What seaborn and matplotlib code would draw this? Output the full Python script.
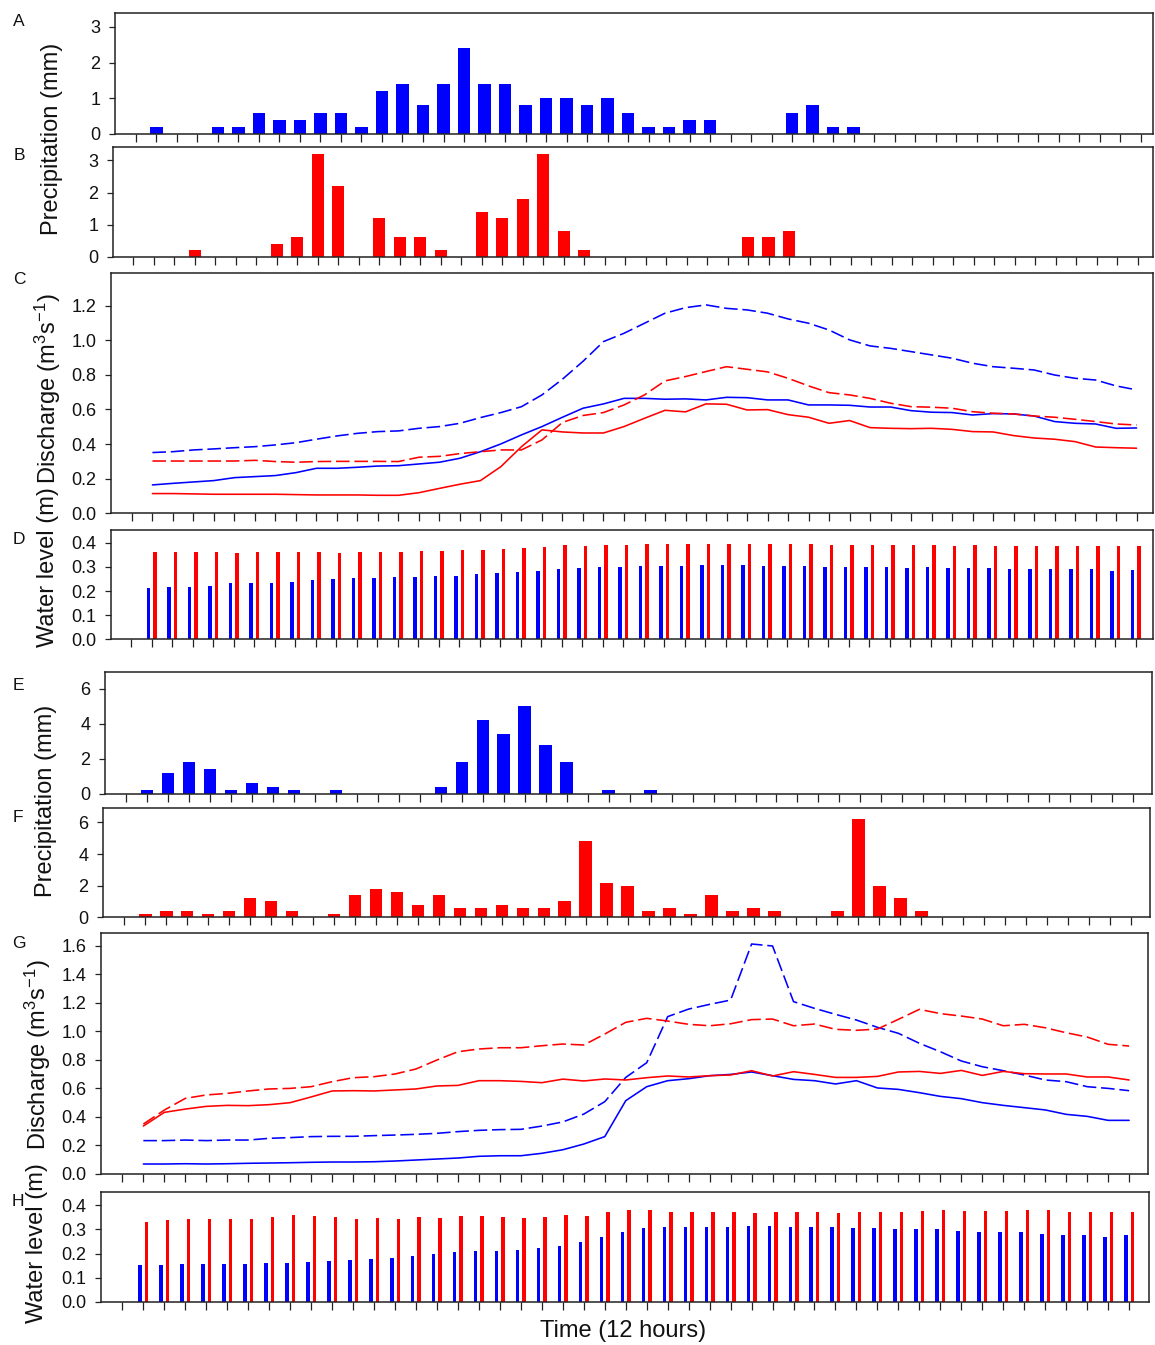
import numpy as np
import pandas as pd
import matplotlib
matplotlib.use("Agg")
import matplotlib.pyplot as plt
import seaborn as sns

# ---------------- data ----------------
# Top event: time index 1..49 (12-hour steps)
t_top = np.arange(1, 50)
precip_A = [0.2, 0, 0, 0.2, 0.2, 0.6, 0.4, 0.4, 0.6, 0.6, 0.2, 1.2, 1.4, 0.8, 1.4, 2.4, 1.4, 1.4,
            0.8, 1.0, 1.0, 0.8, 1.0, 0.6, 0.2, 0.2, 0.4, 0.4, 0, 0, 0, 0.6, 0.8, 0.2, 0.2] + [0] * 14
precip_B = [0, 0, 0.2, 0, 0, 0, 0.4, 0.6, 3.2, 2.2, 0, 1.2, 0.6, 0.6, 0.2, 0, 1.4, 1.2, 1.8, 3.2,
            0.8, 0.2] + [0] * 7 + [0.6, 0.6, 0.8] + [0] * 17
q_C_blue_dash = [0.351, 0.356, 0.366, 0.372, 0.379, 0.385, 0.395, 0.408, 0.428, 0.447, 0.462, 0.472,
                 0.476, 0.491, 0.501, 0.52, 0.553, 0.582, 0.616, 0.684,
                 0.775, 0.878, 0.992, 1.04, 1.098, 1.156, 1.188, 1.204, 1.184, 1.175, 1.156, 1.123,
                 1.098, 1.059, 1.002, 0.967, 0.953, 0.934, 0.915, 0.896, 0.867, 0.847, 0.838, 0.828,
                 0.799, 0.78, 0.77, 0.736, 0.713]
q_C_red_dash = [0.302, 0.302, 0.302, 0.302, 0.302, 0.306, 0.299, 0.295, 0.299, 0.3, 0.3, 0.3, 0.299,
                0.324, 0.329, 0.345, 0.356, 0.366, 0.366, 0.424,
                0.525, 0.565, 0.582, 0.626, 0.684, 0.765, 0.79, 0.819, 0.847, 0.832, 0.817, 0.78,
                0.736, 0.697, 0.684, 0.664, 0.636, 0.616, 0.613, 0.607, 0.587, 0.578, 0.574, 0.562,
                0.555, 0.543, 0.53, 0.516, 0.51]
q_C_blue = [0.164, 0.173, 0.181, 0.189, 0.206, 0.212, 0.218, 0.235, 0.26, 0.26, 0.266, 0.273, 0.275,
            0.285, 0.295, 0.318, 0.356, 0.401, 0.453, 0.501,
            0.555, 0.607, 0.632, 0.664, 0.664, 0.659, 0.661, 0.655, 0.67, 0.668, 0.655, 0.655, 0.626,
            0.626, 0.624, 0.614, 0.614, 0.593, 0.584, 0.582, 0.568, 0.576, 0.574, 0.562, 0.53, 0.52,
            0.516, 0.491, 0.493]
q_C_red = [0.114, 0.114, 0.112, 0.11, 0.11, 0.11, 0.11, 0.108, 0.106, 0.106, 0.106, 0.104, 0.104,
           0.119, 0.144, 0.168, 0.189, 0.27, 0.385, 0.482,
           0.47, 0.464, 0.464, 0.501, 0.549, 0.595, 0.586, 0.632, 0.63, 0.597, 0.599, 0.57, 0.555,
           0.52, 0.536, 0.495, 0.491, 0.489, 0.491, 0.485, 0.472, 0.47, 0.449, 0.435, 0.428, 0.414,
           0.383, 0.379, 0.376]
wl_D_blue = [0.211, 0.218, 0.218, 0.222, 0.232, 0.232, 0.232, 0.239, 0.247, 0.251, 0.252, 0.255,
             0.257, 0.259, 0.261, 0.263, 0.272, 0.276, 0.281, 0.284, 0.291, 0.297,
             0.299, 0.299, 0.303, 0.303, 0.305, 0.306, 0.306, 0.306, 0.305, 0.305, 0.305, 0.301,
             0.299, 0.299, 0.299, 0.297, 0.299, 0.297, 0.295, 0.295, 0.292, 0.292, 0.291, 0.291,
             0.291, 0.284, 0.287]
wl_D_red = [0.363, 0.363, 0.36, 0.36, 0.359, 0.361, 0.363, 0.36, 0.361, 0.359, 0.363, 0.36, 0.361,
            0.367, 0.367, 0.371, 0.371, 0.375, 0.378, 0.383, 0.391, 0.388,
            0.39, 0.389, 0.396, 0.393, 0.394, 0.394, 0.396, 0.394, 0.394, 0.394, 0.394, 0.39, 0.39,
            0.39, 0.39, 0.389, 0.39, 0.388, 0.39, 0.388, 0.388, 0.388, 0.386, 0.386, 0.388, 0.385,
            0.386]

# Bottom event: time index 1..48
t_bot = np.arange(1, 49)
precip_E = [0.2, 1.2, 1.8, 1.4, 0.2, 0.6, 0.4, 0.2, 0, 0.2, 0, 0, 0, 0, 0.4, 1.8, 4.2, 3.4, 5.0,
            2.8, 1.8, 0, 0.2, 0, 0.2] + [0] * 23
precip_F = [0.2, 0.4, 0.4, 0.2, 0.4, 1.2, 1.0, 0.4, 0, 0.2, 1.4, 1.8, 1.6, 0.8, 1.4, 0.6, 0.6, 0.8,
            0.6, 0.6, 1.0, 4.8, 2.2, 2.0, 0.4, 0.6, 0.2, 1.4, 0.4, 0.6, 0.4, 0, 0, 0.4, 6.2, 2.0,
            1.2, 0.4] + [0] * 10
q_G_blue_dash = [0.234, 0.234, 0.238, 0.234, 0.238, 0.238, 0.25, 0.255, 0.262, 0.264, 0.264, 0.269,
                 0.273, 0.278, 0.285, 0.297, 0.306, 0.311, 0.313, 0.336, 0.365, 0.42,
                 0.507, 0.677, 0.78, 1.103, 1.156, 1.189, 1.219, 1.612, 1.598, 1.208, 1.161, 1.119,
                 1.079, 1.028, 0.986, 0.916, 0.857, 0.792, 0.752, 0.724, 0.694, 0.659, 0.647,
                 0.612, 0.6, 0.584]
q_G_red_dash = [0.35, 0.448, 0.53, 0.554, 0.565, 0.582, 0.596, 0.6, 0.612, 0.647, 0.675, 0.682,
                0.701, 0.736, 0.799, 0.857, 0.876, 0.885, 0.885, 0.899, 0.911, 0.904,
                0.981, 1.063, 1.091, 1.072, 1.049, 1.039, 1.053, 1.082, 1.086, 1.039, 1.051, 1.014,
                1.007, 1.016, 1.084, 1.154, 1.124, 1.107, 1.086, 1.039, 1.049, 1.025, 0.99, 0.96,
                0.909, 0.897]
q_G_blue = [0.07, 0.07, 0.072, 0.07, 0.072, 0.075, 0.077, 0.079, 0.082, 0.084, 0.084, 0.086, 0.091,
            0.098, 0.105, 0.112, 0.124, 0.128, 0.128, 0.145, 0.17, 0.21,
            0.262, 0.514, 0.612, 0.654, 0.668, 0.689, 0.698, 0.715, 0.689, 0.663, 0.654, 0.631,
            0.654, 0.603, 0.593, 0.57, 0.544, 0.528, 0.5, 0.481, 0.465, 0.449, 0.418, 0.404,
            0.376, 0.376]
q_G_red = [0.336, 0.432, 0.455, 0.474, 0.481, 0.479, 0.486, 0.5, 0.54, 0.582, 0.584, 0.582, 0.589,
           0.596, 0.617, 0.621, 0.654, 0.654, 0.649, 0.64, 0.665, 0.652,
           0.666, 0.659, 0.675, 0.687, 0.68, 0.689, 0.694, 0.724, 0.687, 0.717, 0.698, 0.677,
           0.677, 0.684, 0.715, 0.719, 0.705, 0.726, 0.691, 0.719, 0.703, 0.701, 0.701, 0.68,
           0.68, 0.659]
wl_H_blue = [0.153, 0.153, 0.155, 0.155, 0.155, 0.155, 0.159, 0.162, 0.163, 0.169, 0.172, 0.176,
             0.183, 0.191, 0.198, 0.205, 0.21, 0.21, 0.213, 0.221, 0.231, 0.246,
             0.269, 0.289, 0.304, 0.308, 0.311, 0.311, 0.308, 0.313, 0.313, 0.311, 0.311, 0.311,
             0.306, 0.306, 0.302, 0.302, 0.3, 0.294, 0.289, 0.287, 0.289, 0.28, 0.277, 0.275,
             0.269, 0.275]
wl_H_red = [0.331, 0.338, 0.343, 0.343, 0.343, 0.343, 0.349, 0.359, 0.354, 0.349, 0.343, 0.346,
            0.343, 0.351, 0.348, 0.353, 0.353, 0.349, 0.346, 0.349, 0.359, 0.353,
            0.37, 0.379, 0.379, 0.373, 0.373, 0.37, 0.37, 0.369, 0.373, 0.373, 0.373, 0.367, 0.37,
            0.373, 0.37, 0.376, 0.379, 0.376, 0.376, 0.376, 0.379, 0.379, 0.373, 0.373, 0.373,
            0.373]

precip_ticks = [0, 1, 2, 3]
precip_ticks_2 = [0, 2, 4, 6]
q_ticks_top = [0.0, 0.2, 0.4, 0.6, 0.8, 1.0, 1.2]
q_ticks_bot = [0.0, 0.2, 0.4, 0.6, 0.8, 1.0, 1.2, 1.4, 1.6]
wl_ticks = [0.0, 0.1, 0.2, 0.3, 0.4]

# ---------------- style ----------------
sns.set_theme(style="ticks")
plt.rcParams["font.family"] = ["Liberation Sans", "DejaVu Sans"]
plt.rcParams["mathtext.fontset"] = "custom"
plt.rcParams["mathtext.rm"] = "Liberation Sans"
plt.rcParams["mathtext.it"] = "Liberation Sans:italic"

BLUE = "#0000ff"
RED = "#ff0000"
W, H = 1155, 1345
fig = plt.figure(figsize=(W / 100, H / 100), dpi=100)


def add_ax(l, t, r, b):
    return fig.add_axes([l / W, 1 - b / H, (r - l) / W, (b - t) / H])


def style_ax(ax, nticks, xlim, ylim, yticks, yfmt):
    ax.set_xlim(*xlim)
    ax.set_ylim(*ylim)
    ax.set_xticks(range(0, nticks))
    ax.set_xticklabels([])
    ax.set_yticks(yticks)
    ax.set_yticklabels([yfmt.format(v) for v in yticks])
    ax.set_xlabel("")
    ax.set_ylabel("")
    for s in ax.spines.values():
        s.set_visible(True)
        s.set_linewidth(1.1)
        s.set_color("#222222")
    ax.tick_params(axis="y", direction="out", length=4.2, width=0.9, color="#222222",
                   labelsize=13, pad=6.5, labelcolor="#111111")
    ax.tick_params(axis="x", direction="out", length=5.5, width=0.9, color="#222222")


def precip(ax, t, vals, color):
    sns.barplot(x=t, y=vals, native_scale=True, color=color, saturation=1, width=0.6,
                errorbar=None, linewidth=0, ax=ax)


def level(ax, t, blue, red):
    n = len(t)
    df = pd.DataFrame({"t": np.concatenate([t, t]),
                       "level": np.concatenate([blue, red]),
                       "site": ["b"] * n + ["r"] * n})
    sns.barplot(data=df, x="t", y="level", hue="site", native_scale=True,
                palette={"b": BLUE, "r": RED}, saturation=1, width=0.62, gap=0.46,
                dodge=True, errorbar=None, linewidth=0, legend=False, ax=ax)


def discharge(ax, t, bd, rd, bs, rs):
    n = len(t)
    df = pd.DataFrame({"t": np.concatenate([t, t, t, t]),
                       "q": np.concatenate([bd, rd, bs, rs]),
                       "site": ["b"] * n + ["r"] * n + ["b"] * n + ["r"] * n,
                       "kind": ["dash"] * (2 * n) + ["solid"] * (2 * n)})
    sns.lineplot(data=df, x="t", y="q", hue="site", style="kind",
                 palette={"b": BLUE, "r": RED},
                 dashes={"dash": (8.5, 3), "solid": ""}, linewidth=1.15,
                 estimator=None, legend=False, ax=ax)


# ---------------- top event ----------------
axA = add_ax(115, 12.7, 1153, 134)
precip(axA, t_top, precip_A, BLUE)
style_ax(axA, 50, (-1.02, 49.6), (0, 3.4), precip_ticks, "{:d}")

axB = add_ax(113.3, 147, 1153, 256.7)
precip(axB, t_top, precip_B, RED)
style_ax(axB, 50, (-0.97, 49.75), (0, 3.42), precip_ticks, "{:d}")

axC = add_ax(111, 272.7, 1153, 513.3)
discharge(axC, t_top, q_C_blue_dash, q_C_red_dash, q_C_blue, q_C_red)
style_ax(axC, 50, (-1.02, 49.8), (0, 1.39), q_ticks_top, "{:.1f}")

axD = add_ax(111, 530, 1153, 639.3)
level(axD, t_top, wl_D_blue, wl_D_red)
style_ax(axD, 50, (-0.99, 49.84), (0, 0.453), wl_ticks, "{:.1f}")

# ---------------- bottom event ----------------
axE = add_ax(105.2, 672.3, 1152, 794)
precip(axE, t_bot, precip_E, BLUE)
style_ax(axE, 49, (-1.0, 48.9), (0, 6.95), precip_ticks_2, "{:d}")

axF = add_ax(103.3, 807.7, 1150, 917.3)
precip(axF, t_bot, precip_F, RED)
style_ax(axF, 49, (-1.0, 48.9), (0, 6.93), precip_ticks_2, "{:d}")

axG = add_ax(101.4, 933.3, 1148, 1174)
discharge(axG, t_bot, q_G_blue_dash, q_G_red_dash, q_G_blue, q_G_red)
style_ax(axG, 49, (-1.0, 48.9), (0, 1.687), q_ticks_bot, "{:.1f}")

axH = add_ax(101.4, 1191.7, 1149, 1302)
level(axH, t_bot, wl_H_blue, wl_H_red)
style_ax(axH, 49, (-1.0, 48.95), (0, 0.455), wl_ticks, "{:.1f}")

# ---------------- texts ----------------
def ftext(x, y, s, **kw):
    fig.text(x / W, 1 - y / H, s, **kw)

lab_kw = dict(rotation=90, ha="center", va="center", fontsize=17, color="#111111")
disch = r"Discharge (m$^{\mathregular{3}}$s$^{\mathregular{-1}}$)"
ftext(52, 139, "Precipitation (mm)", **lab_kw)
ftext(48, 389, disch, **lab_kw)
ftext(48, 567, "Water level (m)", **lab_kw)
ftext(46, 801, "Precipitation (mm)", **lab_kw)
ftext(38, 1055, disch, **lab_kw)
ftext(37, 1243, "Water level (m)", **lab_kw)
ftext(623, 1331, "Time (12 hours)", ha="center", va="center", fontsize=17, color="#111111")

let_kw = dict(ha="center", va="center", fontsize=12.5, color="#111111")
for x, y, s in [(19, 22, "A"), (19, 156, "B"), (19, 279, "C"), (19, 540, "D"),
                (18, 685, "E"), (18, 818, "F"), (19, 944, "G"), (18, 1202, "H")]:
    ftext(x, y, s, **let_kw)

fig.savefig("out.png", dpi=100)
